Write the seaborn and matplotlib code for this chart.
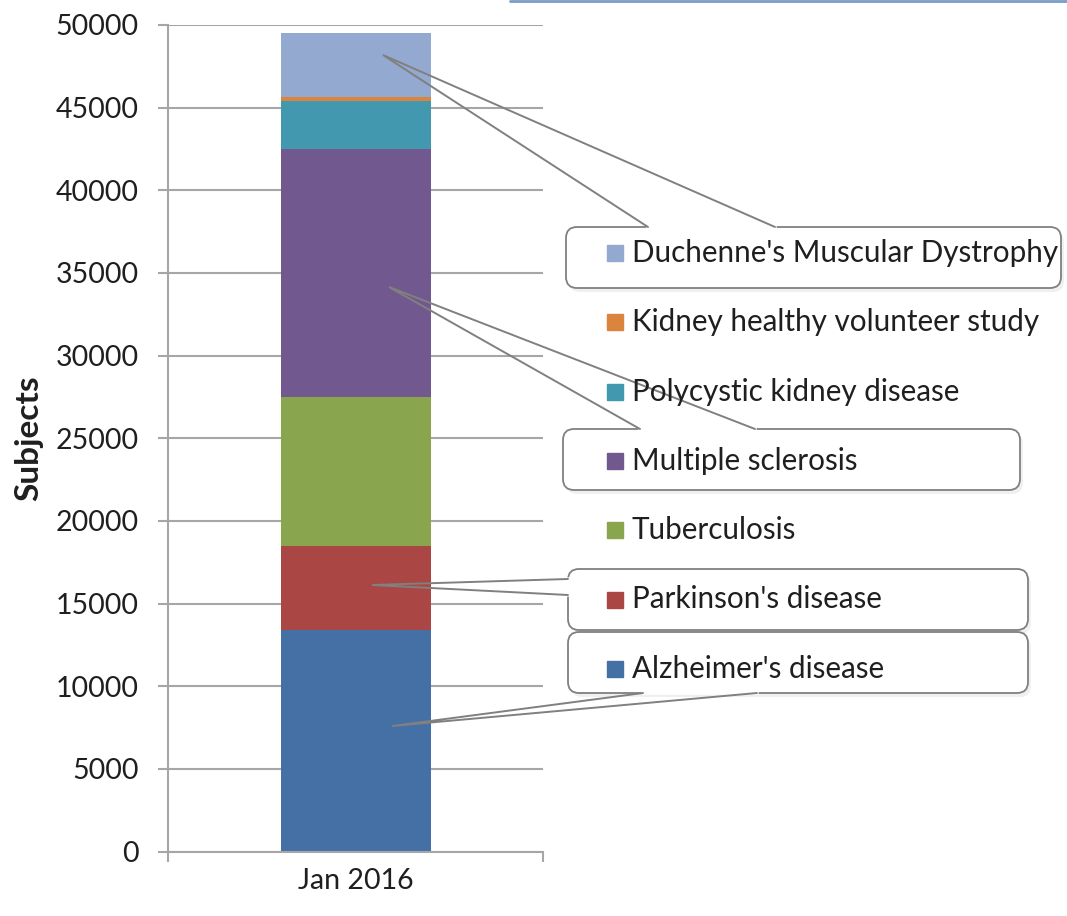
import numpy as np
import pandas as pd
import seaborn as sns
import matplotlib.pyplot as plt
from matplotlib.patches import FancyBboxPatch, Rectangle

# data
categories = ['Jan 2016']
diseases = ["Alzheimer's disease", "Parkinson's disease", "Tuberculosis",
            "Multiple sclerosis", "Polycystic kidney disease",
            "Kidney healthy volunteer study", "Duchenne's Muscular Dystrophy"]
subjects = [13400, 5100, 9000, 15000, 2900, 250, 3850]
colors = ['#4570A6', '#AA4643', '#89A54E', '#71588F', '#4198AF', '#DB843D', '#93A9CF']
y_ticks = list(range(0, 50001, 5000))

sns.set_theme(style='white')
plt.rcParams['font.family'] = ['Lato', 'DejaVu Sans']

df = pd.DataFrame({'month': categories * len(diseases),
                   'disease': diseases,
                   'subjects': subjects})
df['top'] = df['subjects'].cumsum()

W, H = 1067, 916
fig = plt.figure(figsize=(W / 100, H / 100), dpi=100)
ax = fig.add_axes([168 / W, 1 - 851.5 / H, 375 / W, 826.5 / H])

grey = '#A6A6A6'
txt = '#1F1F1F'

# stacked bar: draw cumulative totals, tallest first
for i in reversed(range(len(diseases))):
    sns.barplot(data=df.iloc[[i]], x='month', y='top', color=colors[i],
                width=0.4, saturation=1, ax=ax, linewidth=0)

ax.set_ylim(0, 50000)
ax.set_xlim(-0.5, 0.5)
ax.set_yticks(y_ticks)
ax.set_yticklabels([str(t) for t in y_ticks])
ax.yaxis.grid(True, color=grey, linewidth=1.5)
ax.set_axisbelow(True)
for s in ['top', 'right']:
    ax.spines[s].set_visible(False)
for s in ['left', 'bottom']:
    ax.spines[s].set_color(grey)
    ax.spines[s].set_linewidth(1.5)

ax.tick_params(axis='y', length=7.2, width=1.5, color=grey, labelsize=20.5,
               labelcolor=txt, pad=14, left=True, direction='out')
ax.set_xticks([0])
ax.set_xticklabels(categories)
ax.set_xticks([-0.5, 0.5], minor=True)
ax.tick_params(axis='x', which='major', length=0, labelsize=20.5, labelcolor=txt, pad=12)
ax.tick_params(axis='x', which='minor', length=7.2, width=1.5, color=grey,
               bottom=True, direction='out')
ax.set_xlabel('')
ax.set_ylabel('Subjects', fontsize=24, fontweight='bold', color=txt)
ax.yaxis.set_label_coords((43 - 168) / 375, 0.5)

# overlay in pixel coordinates for legend and callouts
ov = fig.add_axes([0, 0, 1, 1])
ov.set_xlim(0, W)
ov.set_ylim(H, 0)
ov.axis('off')
ov.patch.set_alpha(0)

ov.plot([510, W], [1, 1], color='#7A9CC6', lw=2)

# callout boxes: (x0, y0, x1, y1), anchor, two attach points
callouts = [
    ((566, 227, 1061, 288), (383, 55), (648, 227), (775, 227)),
    ((563, 429, 1020, 490), (389, 287), (640, 429), (755, 429)),
    ((568, 569, 1028, 630), (372, 585), (568, 579), (568, 595)),
    ((568, 632, 1028, 693), (392, 726), (643, 693), (757, 693)),
]
edge = '#808080'
for (x0, y0, x1, y1), anc, p1, p2 in callouts:
    shadow = FancyBboxPatch((x0 + 3, y0 + 4), x1 - x0, y1 - y0,
                            boxstyle='round,pad=0,rounding_size=11',
                            fc='#000000', ec='none', alpha=0.06, zorder=1)
    ov.add_patch(shadow)
    box = FancyBboxPatch((x0, y0), x1 - x0, y1 - y0,
                         boxstyle='round,pad=0,rounding_size=11',
                         fc='white', ec=edge, lw=1.3, zorder=2)
    ov.add_patch(box)
    ov.plot([p1[0], p2[0]], [p1[1], p2[1]], color='white', lw=2.6, zorder=3)
    ov.plot([p1[0], anc[0], p2[0]], [p1[1], anc[1], p2[1]], color=edge,
            lw=1.4, zorder=4, solid_joinstyle='miter')

# legend entries, top to bottom
leg_y0, leg_dy = 253, 69.3
for k, i in enumerate(reversed(range(len(diseases)))):
    y = leg_y0 + k * leg_dy
    ov.add_patch(Rectangle((607, y - 8), 16, 16, color=colors[i], zorder=5))
    ov.text(632, y, diseases[i], fontsize=21.3, va='center', ha='left',
            color=txt, zorder=5)

fig.savefig('out.png', dpi=100)
